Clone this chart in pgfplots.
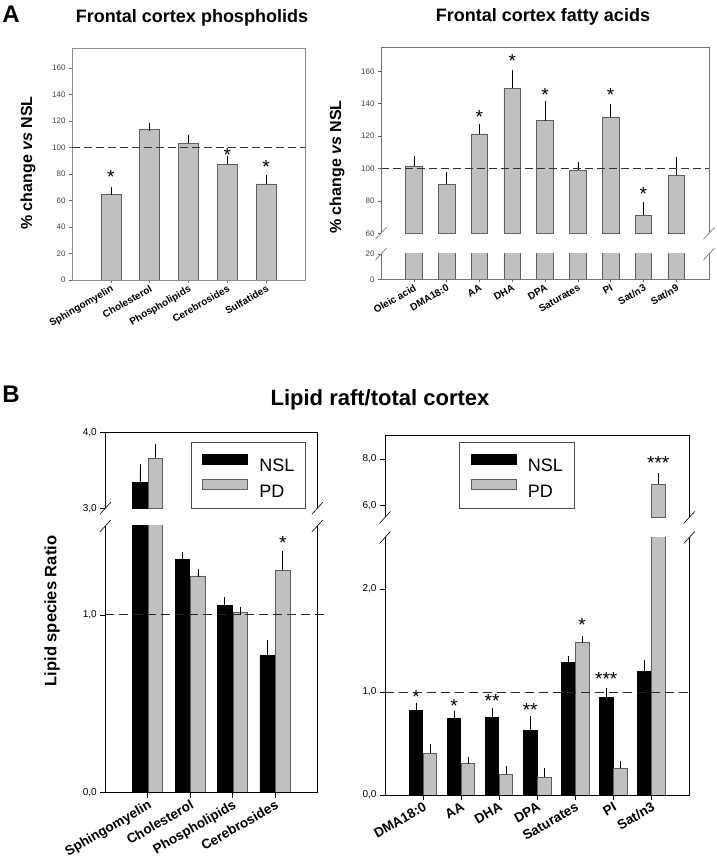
\documentclass[border=0pt]{standalone}
\usepackage{fontspec}
\setmainfont{Liberation Sans}
\usepackage{pgfplots}
\usepackage{pgfplotstable}
\pgfplotsset{compat=1.18}

\definecolor{bargray}{RGB}{192,192,192}
\definecolor{edgegray}{RGB}{95,95,95}

% panel A, frontal cortex phospholipids: value, error
\pgfplotstableread{
x y e
1 64.7 2.7
2 113.7 1.5
3 103.2 3.0
4 87.3 3.0
5 72.5 4.0
}\tabAL
\pgfplotstableread{
x y s
1 78.0 *
4 94.3 *
5 85.5 *
}\starAL

% panel A, frontal cortex fatty acids
\pgfplotstableread{
x y e
1 101.6 4.2
2 90.3 5.2
3 121.4 4.1
4 149.5 9.3
5 129.6 10.1
6 99.0 3.0
7 131.9 5.7
8 71.1 6.0
9 95.9 9.2
}\tabAR
\pgfplotstableread{
x y s
3 131.7 *
4 166.5 *
5 145.5 *
7 145.5 *
8 84.1 *
}\starAR

% panel B, lipid raft / total cortex
\pgfplotstableread{
x n ne p pe
1 3.34 0.19 3.66 0.13
2 1.313 0.020 1.219 0.018
3 1.053 0.026 1.013 0.008
4 0.771 0.063 1.252 0.085
}\tabBL
\pgfplotstableread{
x y s
4.184 1.406 *
}\starBL

\pgfplotstableread{
x n ne p pe
1 0.825 0.032 0.405 0.054
2 0.744 0.036 0.307 0.026
3 0.754 0.058 0.200 0.052
4 0.624 0.110 0.171 0.056
5 1.288 0.029 1.482 0.029
6 0.948 0.052 0.259 0.039
7 1.201 0.071 6.92 0.32
}\tabBR
\pgfplotstableread{
x y s
0.816 0.948 *
1.816 0.864 *
2.816 0.913 **
3.816 0.825 **
5.184 1.650 *
5.816 1.123 ***
}\starBR
\pgfplotstableread{
x y s
7.184 7.84 ***
}\starBRu

\newcommand{\brk}[2]{\draw[#1] ([xshift=-5.5pt,yshift=-6pt]#2) -- ([xshift=5.5pt,yshift=6pt]#2);}

\pgfplotsset{
  base/.style={scale only axis, anchor=south west, tick align=outside, tick pos=left,
    /pgf/number format/assume math mode=true},
  Astyle/.style={base, major tick length=3pt, tick style={black!60, line width=0.5pt},
    yticklabel style={font=\fontsize{8}{9}\selectfont, text=black!75},
    xticklabel style={font=\bfseries\fontsize{10}{11}\selectfont, rotate=30, anchor=north east, inner sep=1pt}},
  Bstyle/.style={base, major tick length=5pt, tick style={black, line width=0.7pt},
    yticklabel style={font=\fontsize{10}{11}\selectfont,
      /pgf/number format/.cd, fixed, fixed zerofill, precision=1, use comma},
    xticklabel style={font=\bfseries\fontsize{13.5}{14}\selectfont, rotate=30, anchor=north east, inner sep=1pt}},
  broken/.style={clip mode=individual, axis line style={draw=none}},
  errs/.style={error bars/.cd, y dir=plus, y explicit, error mark=-,
    error bar style={black, line width=0.6pt},
    error mark options={black, line width=0.6pt, mark size=#1}},
  stars/.style={draw=none, mark=none, forget plot, nodes near coords, point meta=explicit symbolic,
    nodes near coords style={anchor=center, inner sep=0pt, font=\fontsize{#1}{#1}\selectfont}},
  Blegend/.style={legend cell align=left,
    legend image code/.code={\draw[##1, line width=0.6pt] (0pt,1.5pt) rectangle (45pt,11.5pt);},
    legend style={draw=black!70, line width=0.6pt, font=\fontsize{18}{18}\selectfont,
      inner xsep=11pt, inner ysep=11pt, row sep=7pt,
      nodes={inner sep=0pt, text height=13pt, text depth=0pt},
      /tikz/every odd column/.append style={column sep=11.6pt}}},
}

\begin{document}
\begin{tikzpicture}
\useasboundingbox (0,0) rectangle (716pt,859pt);

% ---------- A left ----------
\node[font=\bfseries\fontsize{24}{24}\selectfont] at (11pt,845pt) {A};
\node[font=\bfseries\fontsize{18}{18}\selectfont] at (192pt,841pt) {Frontal cortex phospholids};
\node[rotate=90, font=\bfseries\fontsize{16}{16}\selectfont] at (28pt,696pt) {\% change \textit{vs} NSL};
\begin{axis}[Astyle, at={(72pt,579pt)}, width=233pt, height=232pt,
  axis line style={black!45},
  xmin=0, xmax=6, ymin=0, ymax=175, ytick={0,20,...,160},
  xtick={1,...,5}, xticklabels={Sphingomyelin,Cholesterol,Phospholipids,Cerebrosides,Sulfatides}]
\addplot[ybar, bar width=20pt, bar shift=0pt, fill=bargray, draw=edgegray, line width=0.6pt, errs=4pt]
  table[x=x, y=y, y error=e] \tabAL;
\addplot[stars=19] table[x=x, y=y, meta=s] \starAL;
\draw[black!80, line width=1pt, dash pattern=on 8pt off 4pt] (axis cs:0,100) -- (axis cs:6,100);
\end{axis}

% ---------- A right ----------
\node[font=\bfseries\fontsize{18}{18}\selectfont] at (543pt,842pt) {Frontal cortex fatty acids};
\node[rotate=90, font=\bfseries\fontsize{16}{16}\selectfont] at (337pt,692pt) {\% change \textit{vs} NSL};
\begin{axis}[Astyle, broken, at={(381pt,625.7pt)}, width=328pt, height=186.3pt,
  xmin=0, xmax=10, ymin=60, ymax=175, ytick={60,80,...,160}, xtick=\empty]
\addplot[ybar, bar width=16.7pt, bar shift=0pt, fill=bargray, draw=edgegray, line width=0.6pt, errs=3.5pt]
  table[x=x, y=y, y error=e] \tabAR;
\addplot[stars=19] table[x=x, y=y, meta=s] \starAR;
\draw[black!80, line width=1pt, dash pattern=on 8pt off 4pt] (axis cs:0,100) -- (axis cs:10,100);
\draw[black!55, line width=0.6pt] (rel axis cs:0,0) -- (rel axis cs:0,1) -- (rel axis cs:1,1) -- (rel axis cs:1,0);
\brk{black!60, line width=0.6pt}{rel axis cs:0,0}
\brk{black!60, line width=0.6pt}{rel axis cs:1,0}
\end{axis}
\begin{axis}[Astyle, broken, at={(381pt,579.7pt)}, width=328pt, height=25.3pt,
  xmin=0, xmax=10, ymin=0, ymax=20, ytick={0,20},
  xtick={1,...,9}, xticklabels={Oleic acid,DMA18:0,AA,DHA,DPA,Saturates,PI,Sat/n3,Sat/n9}]
\addplot[ybar, bar width=16.7pt, bar shift=0pt, fill=bargray, draw=edgegray, line width=0.6pt]
  table[x=x, y=y] \tabAR;
\draw[black!55, line width=0.6pt] (rel axis cs:0,1) -- (rel axis cs:0,0) -- (rel axis cs:1,0) -- (rel axis cs:1,1);
\brk{black!60, line width=0.6pt}{rel axis cs:0,1}
\brk{black!60, line width=0.6pt}{rel axis cs:1,1}
\end{axis}

% ---------- B ----------
\node[font=\bfseries\fontsize{24}{24}\selectfont] at (11pt,465pt) {B};
\node[font=\bfseries\fontsize{22}{22}\selectfont] at (380pt,459pt) {Lipid raft/total cortex};
\node[rotate=90, font=\bfseries\fontsize{16.5}{16.5}\selectfont] at (52pt,248pt) {Lipid species Ratio};

% B left upper
\begin{axis}[Bstyle, broken, Blegend, at={(105.3pt,350.7pt)}, width=212pt, height=76pt,
  xmin=0, xmax=5, ymin=3, ymax=4, ytick={3,4}, xtick=\empty,
  legend style={at={(1,1)}, anchor=north east, xshift=-11.6pt, yshift=-10pt}]
\addlegendimage{fill=black, draw=black}
\addlegendentry{NSL}
\addlegendimage{fill=bargray, draw=edgegray}
\addlegendentry{PD}
\addplot[ybar, bar width=14.5pt, bar shift=0pt, fill=black, draw=black, line width=0.6pt, forget plot,
  restrict y to domain=3:10, errs=4pt]
  table[x expr=\thisrow{x}-0.184, y=n, y error=ne] \tabBL;
\addplot[ybar, bar width=14.5pt, bar shift=0pt, fill=bargray, draw=edgegray, line width=0.6pt, forget plot,
  restrict y to domain=3:10, errs=4pt]
  table[x expr=\thisrow{x}+0.184, y=p, y error=pe] \tabBL;
\draw[black, line width=0.8pt] (rel axis cs:0,0) -- (rel axis cs:0,1) -- (rel axis cs:1,1) -- (rel axis cs:1,0);
\brk{black, line width=0.6pt}{rel axis cs:0,0}
\brk{black, line width=0.6pt}{rel axis cs:1,0}
\end{axis}
% B left lower
\begin{axis}[Bstyle, broken, at={(105.3pt,66.3pt)}, width=212pt, height=266.7pt,
  xmin=0, xmax=5, ymin=0, ymax=1.5, ytick={0,1},
  xtick={1,...,4}, xticklabels={Sphingomyelin,Cholesterol,Phospholipids,Cerebrosides}]
\addplot[ybar, bar width=14.5pt, bar shift=0pt, fill=black, draw=black, line width=0.6pt, errs=4pt]
  table[x expr=\thisrow{x}-0.184, y=n, y error=ne] \tabBL;
\addplot[ybar, bar width=14.5pt, bar shift=0pt, fill=bargray, draw=edgegray, line width=0.6pt, errs=4pt]
  table[x expr=\thisrow{x}+0.184, y=p, y error=pe] \tabBL;
\addplot[stars=19] table[x=x, y=y, meta=s] \starBL;
\draw[black!85, line width=0.9pt, dash pattern=on 9pt off 5pt] (axis cs:0,1) -- (axis cs:5.19,1);
\draw[black, line width=0.8pt] (rel axis cs:0,1) -- (rel axis cs:0,0) -- (rel axis cs:1,0) -- (rel axis cs:1,1);
\brk{black, line width=0.6pt}{rel axis cs:0,1}
\brk{black, line width=0.6pt}{rel axis cs:1,1}
\end{axis}

% B right upper
\begin{axis}[Bstyle, broken, Blegend, at={(385pt,341.6pt)}, width=304.3pt, height=81.7pt,
  xmin=0, xmax=8, ymin=5.5, ymax=9, ytick={6,8}, xtick=\empty,
  legend style={at={(0,1)}, anchor=north west, xshift=74.3pt, yshift=-6.6pt}]
\addlegendimage{fill=black, draw=black}
\addlegendentry{NSL}
\addlegendimage{fill=bargray, draw=edgegray}
\addlegendentry{PD}
\addplot[ybar, bar width=13.3pt, bar shift=0pt, fill=bargray, draw=edgegray, line width=0.6pt, forget plot,
  restrict y to domain=5.5:20, errs=3.5pt]
  table[x expr=\thisrow{x}+0.184, y=p, y error=pe] \tabBR;
\addplot[stars=19] table[x=x, y=y, meta=s] \starBRu;
\draw[black, line width=0.8pt] (rel axis cs:0,0) -- (rel axis cs:0,1) -- (rel axis cs:1,1) -- (rel axis cs:1,0);
\brk{black, line width=0.6pt}{rel axis cs:0,0}
\brk{black, line width=0.6pt}{rel axis cs:1,0}
\end{axis}
% B right lower
\begin{axis}[Bstyle, broken, at={(385pt,64pt)}, width=304.3pt, height=257.5pt,
  xmin=0, xmax=8, ymin=0, ymax=2.5, ytick={0,1,2},
  xtick={1,...,7}, xticklabels={DMA18:0,AA,DHA,DPA,Saturates,PI,Sat/n3}]
\addplot[ybar, bar width=13.3pt, bar shift=0pt, fill=black, draw=black, line width=0.6pt, errs=3.5pt]
  table[x expr=\thisrow{x}-0.184, y=n, y error=ne] \tabBR;
\addplot[ybar, bar width=13.3pt, bar shift=0pt, fill=bargray, draw=edgegray, line width=0.6pt, errs=3.5pt]
  table[x expr=\thisrow{x}+0.184, y=p, y error=pe] \tabBR;
\addplot[stars=19] table[x=x, y=y, meta=s] \starBR;
\draw[black!85, line width=0.9pt, dash pattern=on 9pt off 5pt] (axis cs:0,1) -- (axis cs:8,1);
\draw[black, line width=0.8pt] (rel axis cs:0,1) -- (rel axis cs:0,0) -- (rel axis cs:1,0) -- (rel axis cs:1,1);
\brk{black, line width=0.6pt}{rel axis cs:0,1}
\brk{black, line width=0.6pt}{rel axis cs:1,1}
\end{axis}
\end{tikzpicture}
\end{document}
